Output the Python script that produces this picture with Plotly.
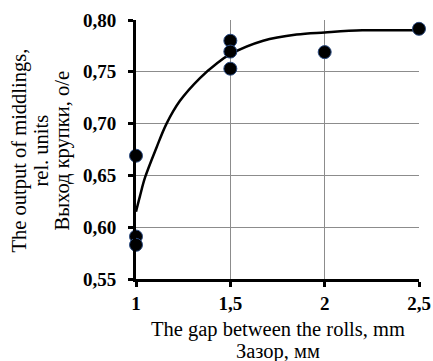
import plotly.graph_objects as go

# Measured points
gap_mm = [1, 1, 1, 1.5, 1.5, 1.5, 2, 2.5]
output_rel = [0.669, 0.591, 0.583, 0.780, 0.7695, 0.753, 0.769, 0.7915]

# Trend curve
curve_x = [1.0, 1.021, 1.048, 1.109, 1.162, 1.233, 1.339, 1.428, 1.5, 1.674, 1.851, 2.0, 2.2, 2.5]
curve_y = [0.615, 0.630, 0.648, 0.677, 0.700, 0.722, 0.744, 0.758, 0.767, 0.780, 0.786, 0.788, 0.790, 0.790]

x_tickvals = [1, 1.5, 2, 2.5]
x_ticktext = ["1", "1,5", "2", "2,5"]
y_tickvals = [0.55, 0.60, 0.65, 0.70, 0.75, 0.80]
y_ticktext = ["0,55", "0,60", "0,65", "0,70", "0,75", "0,80"]

x_title_lines = ["The gap between the rolls, mm", "Зазор, мм"]
y_title_lines = ["The output of middlings,", "rel. units", "Выход крупки, о/е"]

serif = "Liberation Serif, Times New Roman, serif"
title_size = 20.5

fig = go.Figure()
fig.add_trace(go.Scatter(
    x=curve_x, y=curve_y, mode="lines",
    line=dict(color="black", width=2.5, shape="spline", smoothing=1.0),
    showlegend=False, hoverinfo="skip", cliponaxis=False,
))
fig.add_trace(go.Scatter(
    x=gap_mm, y=output_rel, mode="markers",
    marker=dict(color="black", size=13, line=dict(color="#2a4a80", width=1)),
    showlegend=False, cliponaxis=False,
))

annotations = []
for text, shift in zip(x_title_lines, [-50, -72]):
    annotations.append(dict(
        text=text, xref="paper", yref="paper", x=0.5, y=0, yshift=shift,
        xanchor="center", yanchor="middle", showarrow=False,
        font=dict(family=serif, size=title_size, color="black")))
for text, xpos in zip(y_title_lines, [19, 40, 62]):
    annotations.append(dict(
        text=text, xref="paper", yref="paper", x=0, y=0.5, xshift=xpos - 136, yshift=-1,
        xanchor="center", yanchor="middle", textangle=-90, showarrow=False,
        font=dict(family=serif, size=title_size, color="black")))

fig.update_layout(
    width=433, height=361,
    margin=dict(l=136, r=14, t=20, b=82),
    paper_bgcolor="white", plot_bgcolor="white",
    font=dict(family=serif, color="black"),
    separators=", ",
    xaxis=dict(
        range=[1, 2.5], tickvals=x_tickvals, ticktext=x_ticktext,
        showgrid=True, gridcolor="#8c8c8c", gridwidth=1.3, griddash="solid",
        showline=True, linecolor="black", linewidth=3,
        ticks="outside", ticklen=5, tickwidth=3, tickcolor="black",
        tickfont=dict(family=serif, size=19, color="black", weight="bold"),
        zeroline=False, fixedrange=True, automargin=False,
    ),
    yaxis=dict(
        range=[0.55, 0.80], tickvals=y_tickvals, ticktext=y_ticktext,
        showgrid=True, gridcolor="#8c8c8c", gridwidth=1.3, griddash="solid",
        showline=True, linecolor="black", linewidth=3,
        ticks="outside", ticklen=5, tickwidth=3, tickcolor="black",
        tickfont=dict(family=serif, size=19, color="black", weight="bold"),
        ticklabelstandoff=8,
        zeroline=False, fixedrange=True, automargin=False,
    ),
    annotations=annotations,
)

fig.write_html("out.html", config={"displayModeBar": False},
               post_script="document.body.style.margin='0';document.body.style.padding='0';")
